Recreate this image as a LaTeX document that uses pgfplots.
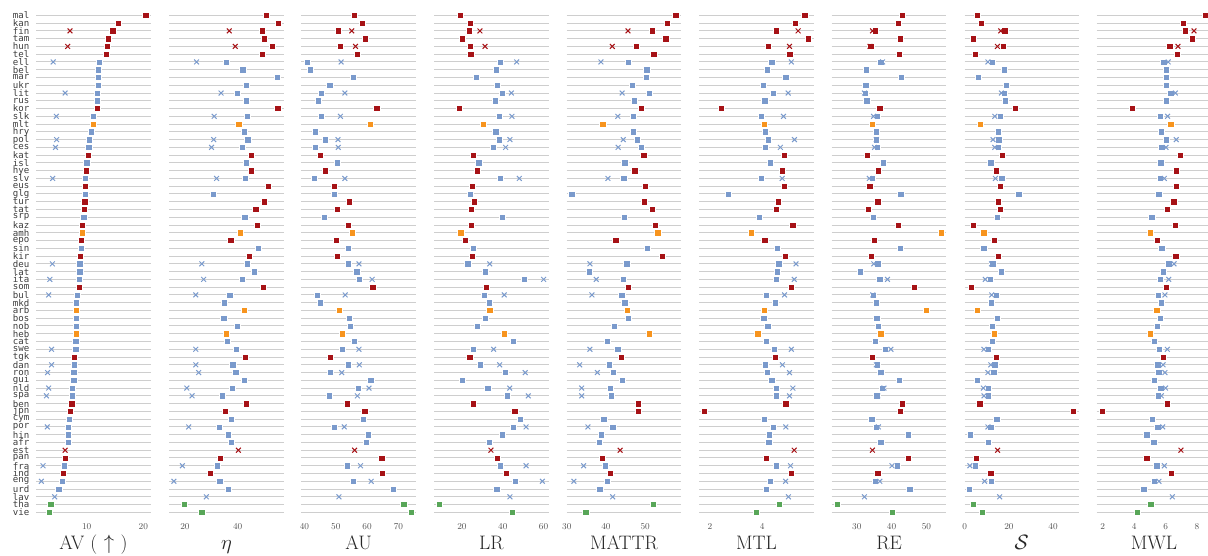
\documentclass[border=0pt]{standalone}
\usepackage{fontspec}
\usepackage{pgfplots}
\usepackage{pgfplotstable}
\pgfplotsset{compat=1.18}
\newfontfamily\monofont{DejaVu Sans Mono}

\definecolor{cred}{RGB}{166,18,22}
\definecolor{cblue}{RGB}{122,154,204}
\definecolor{corange}{RGB}{247,148,30}
\definecolor{cgreen}{RGB}{88,166,88}
\definecolor{gridgray}{RGB}{206,206,206}
\definecolor{ticktext}{RGB}{80,80,80}
\definecolor{langtext}{RGB}{60,60,60}

% one row per language: colour class, then (square, cross) for each measure
\pgfplotstableread{
i  lang c  av    avx   eta  etax au   aux  lr   lrx  mattr mattrx mtl  mtlx re   rex  s    sx   mwl  mwlx
0  mal  r  20.4  nan   50.8 nan  55.9 nan  19.2 nan  57.8  nan    5.63 nan  43.1 nan  5.6  nan  8.55 nan
1  kan  r  15.6  nan   55.5 nan  58.4 nan  24.1 nan  55.7  nan    5.26 nan  42.0 nan  7.5  nan  7.11 nan
2  fin  r  14.6  7.06  49.3 36.8 50.7 55.1 23.4 28.8 51.8  45.6   4.54 5.38 35.2 34.5 18.1 16.3 7.25 7.81
3  tam  r  13.8  nan   50.0 nan  59.3 nan  20.3 nan  55.2  nan    5.78 nan  42.4 nan  3.8  nan  7.70 nan
4  hun  r  13.6  6.65  53.1 39.1 51.4 56.3 24.1 31.3 47.7  41.6   4.24 5.05 34.0 33.8 17.3 14.8 6.26 6.79
5  tel  r  13.5  nan   49.4 nan  56.8 nan  24.3 nan  52.2  nan    5.06 nan  42.2 nan  4.8  nan  6.73 nan
6  ell  b  12.2  4.1   35.8 24.4 40.8 51.7 38.8 46.8 45.6  38.7   4.37 5.12 36.9 37.4 12.4 10.5 5.88 6.17
7  bel  b  12.1  nan   42.0 nan  41.9 nan  36.8 nan  50.4  nan    4.20 nan  32.8 nan  17.8 nan  6.03 nan
8  mar  b  12.05 nan   55.1 nan  55.5 nan  27.0 nan  50.2  nan    4.91 nan  42.8 nan  6.0  nan  6.05 nan
9  ukr  b  12.0  nan   43.4 nan  48.1 nan  37.2 nan  46.7  nan    4.05 nan  32.6 nan  18.8 nan  6.03 nan
10 lit  b  11.9  6.2   39.9 33.7 45.4 52.9 39.6 44.2 51.1  44.1   4.42 5.00 32.4 32.2 17.8 16.6 6.33 6.62
11 rus  b  11.9  nan   43.3 nan  44.3 nan  36.3 nan  47.2  nan    4.10 nan  32.9 nan  18.4 nan  6.03 nan
12 kor  r  11.9  nan   55.2 nan  63.1 nan  18.7 nan  48.9  nan    2.44 nan  36.6 nan  22.9 nan  3.88 nan
13 slk  b  11.1  4.65  43.6 31.1 45.3 51.5 38.3 44.5 47.0  43.0   3.96 4.82 35.8 34.8 16.0 13.6 5.66 6.13
14 mlt  o  11.1  nan   40.4 nan  61.1 nan  30.4 nan  39.2  nan    4.08 nan  34.4 nan  6.9  nan  6.33 nan
15 hry  b  10.8  nan   42.5 nan  43.4 nan  36.5 nan  46.9  nan    4.12 nan  35.5 nan  15.1 nan  5.71 nan
16 pol  b  10.5  4.7   43.9 30.9 46.7 50.7 38.1 43.5 47.9  44.4   4.24 5.24 35.6 35.6 15.4 12.8 6.03 6.68
17 ces  b  10.35 4.5   41.8 30.1 43.5 50.8 35.5 41.4 49.0  43.1   4.13 4.70 35.8 35.1 15.1 13.6 5.75 6.03
18 kat  r  10.3  nan   45.1 nan  45.1 nan  25.5 nan  49.6  nan    4.85 nan  33.0 nan  17.0 nan  6.92 nan
19 isl  b  10.0  nan   43.4 nan  50.5 nan  28.2 nan  44.8  nan    4.30 nan  37.6 nan  11.8 nan  5.69 nan
20 hye  r  9.9   nan   45.1 nan  46.7 nan  27.5 nan  47.3  nan    4.77 nan  36.2 nan  14.2 nan  6.68 nan
21 slv  b  9.8   4.0   42.9 32.0 43.2 52.9 38.8 48.1 44.5  40.5   3.97 4.77 34.5 33.6 16.7 13.9 5.66 5.92
22 eus  r  9.8   nan   51.7 nan  49.6 nan  25.2 nan  50.0  nan    4.86 nan  33.7 nan  16.0 nan  6.68 nan
23 glg  b  9.8   nan   30.8 nan  49.6 nan  24.1 nan  31.3  nan    2.70 nan  42.6 nan  24.4 nan  5.56 nan
24 tur  r  9.65  nan   50.1 nan  54.3 nan  25.9 nan  49.7  nan    4.63 nan  36.0 nan  15.2 nan  6.52 nan
25 tat  r  9.6   nan   46.9 nan  50.5 nan  24.6 nan  51.8  nan    4.55 nan  33.2 nan  16.1 nan  6.11 nan
26 srp  b  9.5   nan   42.7 nan  46.3 nan  39.6 nan  44.6  nan    3.88 nan  34.7 nan  14.8 nan  5.12 nan
27 kaz  r  9.2   nan   47.5 nan  54.0 nan  24.4 nan  52.6  nan    5.18 nan  41.9 nan  3.9  nan  6.62 nan
28 amh  o  9.2   nan   41.0 nan  55.3 nan  19.4 nan  53.2  nan    3.58 nan  54.2 nan  8.6  nan  5.03 nan
29 epo  r  9.05  nan   37.4 nan  50.2 nan  21.6 nan  42.5  nan    4.10 nan  35.1 nan  13.3 nan  5.47 nan
30 sin  b  9.0   nan   47.9 nan  54.0 nan  25.5 nan  50.5  nan    4.59 nan  42.5 nan  8.6  nan  5.75 nan
31 kir  r  8.9   nan   44.3 nan  50.4 nan  24.9 nan  54.3  nan    4.90 nan  34.2 nan  15.2 nan  6.64 nan
32 deu  b  8.8   3.95  43.7 26.4 53.9 57.4 22.8 33.6 45.3  35.9   4.64 5.30 36.0 34.9 12.7 12.1 6.20 6.54
33 lat  b  8.8   nan   46.2 nan  56.7 nan  31.4 nan  35.7  nan    4.59 nan  30.9 nan  16.4 nan  5.86 nan
34 ita  b  8.65  3.5   41.8 27.1 57.5 61.6 50.5 60.0 44.4  37.5   4.53 5.23 36.6 38.8 11.6 9.3  5.66 6.20
35 som  r  8.65  nan   49.8 nan  61.8 nan  31.9 nan  45.7  nan    5.13 nan  46.4 nan  2.9  nan  6.03 nan
36 bul  b  8.35  3.3   37.0 24.1 44.0 53.0 30.9 40.7 44.0  36.4   4.15 4.86 34.8 34.6 14.2 12.2 5.54 5.96
37 mkd  b  8.2   nan   34.9 nan  45.1 nan  33.4 nan  44.8  nan    4.51 nan  35.6 nan  11.9 nan  5.71 nan
38 arb  o  8.2   nan   42.5 nan  51.1 nan  33.6 nan  45.5  nan    4.09 nan  50.0 nan  5.6  nan  5.43 nan
39 bos  b  8.2   nan   34.7 nan  54.3 nan  31.4 nan  45.7  nan    4.06 nan  35.7 nan  14.6 nan  5.65 nan
40 nob  b  8.1   nan   39.8 nan  54.6 nan  27.4 nan  42.1  nan    4.22 nan  36.1 nan  12.5 nan  5.47 nan
41 heb  o  8.1   nan   35.8 nan  52.1 nan  40.7 nan  51.0  nan    3.83 nan  36.9 nan  13.4 nan  5.03 nan
42 cat  b  8.05  nan   36.1 nan  56.0 nan  45.2 nan  40.4  nan    4.15 nan  35.3 nan  12.4 nan  5.28 nan
43 swe  b  8.05  3.8   39.4 24.1 52.0 57.4 25.5 35.5 43.0  35.9   4.47 5.12 38.1 39.8 10.5 8.7  5.60 6.11
44 tgk  r  7.8   nan   42.8 nan  48.3 nan  23.8 nan  43.9  nan    4.51 nan  34.5 nan  14.2 nan  5.86 nan
45 dan  b  7.8   3.8   38.2 24.1 53.9 57.5 28.8 38.5 40.9  33.3   4.12 4.78 35.8 35.6 13.6 11.8 5.50 5.84
46 ron  b  7.7   3.1   39.3 25.2 48.3 51.9 41.2 51.0 41.8  37.8   4.19 5.05 36.9 36.9 13.1 10.5 5.56 5.96
47 gui  b  7.7   nan   42.5 nan  61.2 nan  20.3 nan  44.2  nan    4.37 nan  42.2 nan  5.7  nan  5.28 nan
48 nld  b  7.5   3.3   37.9 20.7 57.2 60.6 32.6 43.4 41.0  33.8   4.55 5.18 37.4 37.8 10.5 8.4  5.69 6.00
49 spa  b  7.5   2.9   34.1 22.7 48.0 56.9 42.2 52.5 41.3  33.8   4.54 5.05 35.7 36.0 10.5 8.7  5.52 5.73
50 ben  r  7.35  nan   43.2 nan  53.6 nan  25.4 nan  48.2  nan    4.91 nan  43.1 nan  6.8  nan  6.11 nan
51 jpn  r  7.1   nan   35.3 nan  59.2 nan  45.8 nan  48.2  nan    1.78 nan  42.5 nan  49.1 nan  1.96 nan
52 cym  b  6.9   nan   37.5 nan  58.8 nan  48.6 nan  39.4  nan    4.08 nan  34.3 nan  14.5 nan  5.16 nan
53 por  b  6.8   3.05  32.9 21.4 49.5 52.7 45.3 51.4 41.7  35.4   4.42 4.91 35.5 36.2 11.8 10.5 5.50 5.82
54 hin  b  6.8   nan   36.5 nan  60.4 nan  39.8 nan  38.8  nan    4.28 nan  44.7 nan  2.5  nan  4.80 nan
55 afr  b  6.8   nan   37.5 nan  59.8 nan  33.4 nan  38.3  nan    4.26 nan  36.9 nan  10.7 nan  5.24 nan
56 est  r  nan   6.2   nan  40.3 nan  56.0 nan  34.2 nan   43.6   nan  5.23 nan  34.5 nan  14.9 nan  6.98
57 pan  r  6.2   nan   33.3 nan  64.7 nan  37.3 nan  39.1  nan    4.15 nan  44.8 nan  5.3  nan  4.80 nan
58 fra  b  6.05  2.3   32.3 19.0 53.7 57.9 38.8 51.4 39.8  34.3   4.55 5.09 41.7 40.1 4.8  2.3  5.43 5.92
59 ind  r  5.9   nan   29.5 nan  64.9 nan  41.7 nan  41.1  nan    5.12 nan  36.0 nan  11.8 nan  6.36 nan
60 eng  b  5.7   2.0   33.2 15.8 55.6 61.3 46.0 59.4 40.3  31.8   4.32 4.90 35.2 36.6 11.9 9.0  5.26 5.58
61 urd  b  5.1   nan   36.5 nan  68.4 nan  37.0 nan  38.4  nan    4.15 nan  45.2 nan  2.1  nan  4.61 nan
62 lav  b  nan   4.35  nan  28.1 nan  51.0 nan  43.5 nan   41.7   nan  5.01 nan  32.2 nan  15.8 nan  6.43
63 tha  g  3.65  nan   19.6 nan  71.7 nan  8.9  nan  52.1  nan    4.65 nan  24.3 nan  3.8  nan  5.05 nan
64 vie  g  3.35  nan   26.4 nan  74.0 nan  44.5 nan  34.8  nan    3.78 nan  40.2 nan  8.0  nan  4.18 nan
}\langdata

\pgfplotsset{
  panel/.style={
    scale only axis, anchor=south west, height=506.3pt,
    ymin=-0.6, ymax=64.6, y dir=reverse,
    ytick={0,...,64}, yticklabels={},
    ymajorgrids, grid style={draw=gridgray, line width=1pt},
    axis line style={draw=none}, major tick length=0pt,
    clip=false,
    xticklabel style={font=\fontsize{9.5}{10}\selectfont, text=ticktext, anchor=base, yshift=-12.3pt},
    xlabel style={at={(axis description cs:0.5,0)}, anchor=base, yshift=-32.3pt,
      font=\fontsize{19.5}{19.5}\selectfont, text=black!85},
  },
  squares/.style={only marks, scatter, scatter src=explicit symbolic,
    mark size=3.15pt,
    scatter/classes={
      r={mark=square*, draw=white, fill=cred, line width=0.5pt},
      b={mark=square*, draw=white, fill=cblue, line width=0.5pt},
      o={mark=square*, draw=white, fill=corange, line width=0.5pt},
      g={mark=square*, draw=white, fill=cgreen, line width=0.5pt}}},
  crosses/.style={only marks, scatter, scatter src=explicit symbolic,
    mark size=3.4pt,
    scatter/classes={
      r={mark=x, draw=cred, line width=1pt},
      b={mark=x, draw=cblue, line width=1pt},
      o={mark=x, draw=corange, line width=1pt},
      g={mark=x, draw=cgreen, line width=1pt}}},
}

% draws the squares and crosses of one measure
\newcommand{\measure}[2]{%
  \addplot[squares] table[x=#1, y=i, meta=c]{\langdata};
  \addplot[crosses] table[x=#2, y=i, meta=c]{\langdata};
}

\begin{document}
\begin{tikzpicture}
\useasboundingbox (0pt,0pt) rectangle (1208pt,556pt);

\begin{axis}[panel, at={(36pt,39pt)}, width=115pt, xmin=1.06, xmax=21.35,
  xtick={10,20}, xlabel={AV\ (\,\,$\uparrow$\,\,)},
  yticklabels from table={\langdata}{lang},
  yticklabel style={font=\monofont\fontsize{9.1}{9.1}\selectfont, text=langtext,
    anchor=east, inner sep=0pt, xshift=-6.5pt}]
\measure{av}{avx}
\end{axis}

\begin{axis}[panel, at={(169.3pt,39pt)}, width=114.4pt, xmin=14.05, xmax=57.5,
  xtick={20,40}, xlabel={$\eta$}]
\measure{eta}{etax}
\end{axis}

\begin{axis}[panel, at={(301pt,39pt)}, width=115.3pt, xmin=38.9, xmax=75.7,
  xtick={40,50,60,70}, xlabel={AU}]
\measure{au}{aux}
\end{axis}

\begin{axis}[panel, at={(434pt,39pt)}, width=114.7pt, xmin=6.3, xmax=62.5,
  xtick={20,40,60}, xlabel={LR}]
\measure{lr}{lrx}
\end{axis}

\begin{axis}[panel, at={(566.7pt,39pt)}, width=114.6pt, xmin=29.98, xmax=59.2,
  xtick={30,40,50}, xlabel={MATTR}]
\measure{mattr}{mattrx}
\end{axis}

\begin{axis}[panel, at={(699pt,39pt)}, width=115pt, xmin=1.58, xmax=5.99,
  xtick={2,4}, xlabel={MTL}]
\measure{mtl}{mtlx}
\end{axis}

\begin{axis}[panel, at={(831.7pt,39pt)}, width=114.6pt, xmin=22.8, xmax=55.7,
  xtick={30,40,50}, xlabel={RE}]
\measure{re}{rex}
\end{axis}

\begin{axis}[panel, at={(964.7pt,39pt)}, width=114pt, xmin=-0.02, xmax=51.6,
  xtick={0,20,40}, xlabel={$\mathcal{S}$}]
\measure{s}{sx}
\end{axis}

\begin{axis}[panel, at={(1096.7pt,39pt)}, width=114.6pt, xmin=1.62, xmax=8.91,
  xtick={2,4,6,8}, xlabel={MWL}]
\measure{mwl}{mwlx}
\end{axis}

\end{tikzpicture}
\end{document}
